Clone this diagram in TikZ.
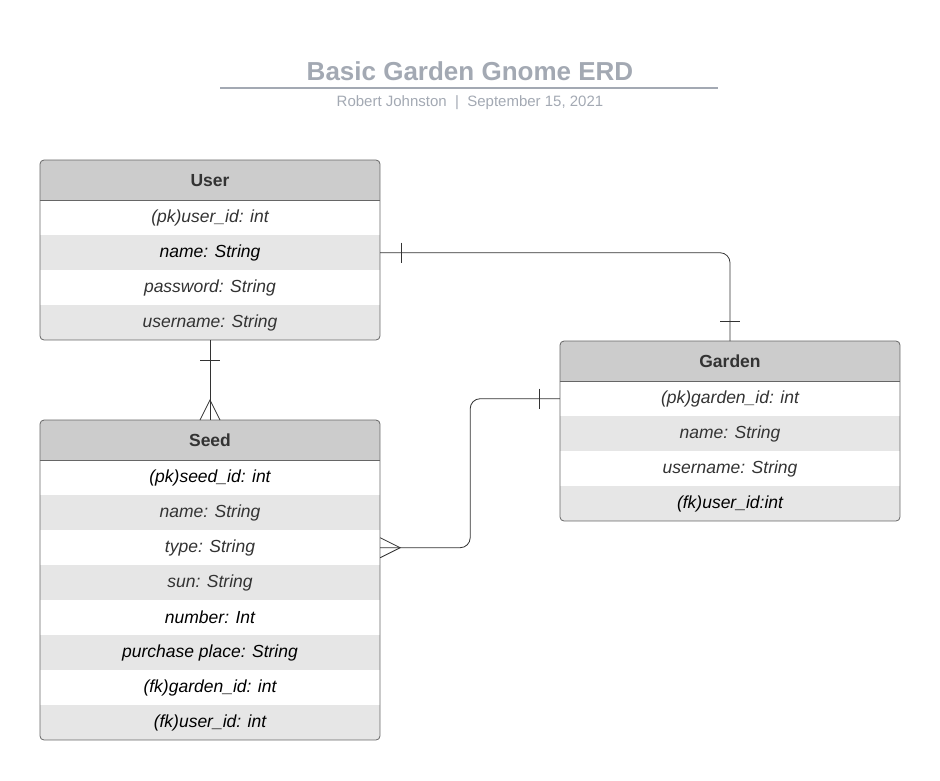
\documentclass[tikz,border=0pt]{standalone}
\usepackage{fontspec}
\setmainfont{Liberation Sans}
\usetikzlibrary{calc}
\definecolor{hdrgray}{HTML}{CCCCCC}
\definecolor{rowgray}{HTML}{E6E6E6}
\definecolor{txtgray}{HTML}{333333}
\definecolor{titlegray}{HTML}{A3A9B3}
\definecolor{edgegray}{HTML}{666666}
\tikzset{
  header/.style={minimum width=340pt, minimum height=40pt, fill=hdrgray, inner sep=0pt,
    font=\fontsize{17.5}{20}\selectfont\bfseries, text=txtgray, anchor=north},
  field/.style={minimum width=340pt, minimum height=35pt, inner sep=0pt,
    font=\fontsize{17.5}{20}\selectfont\itshape, anchor=north},
  tablebox/.style={draw=edgegray, rounded corners=4pt, line width=0.8pt},
  link/.style={draw=black!80, line width=0.8pt},
}
\begin{document}
\begin{tikzpicture}[x=1pt,y=-1pt]
            \useasboundingbox (0,0) rectangle (940,780);

            % title
            \node[font=\fontsize{26}{30}\selectfont\bfseries, text=titlegray] (title) at (470,71) {Basic Garden Gnome ERD};
            \draw[titlegray, line width=1.6pt] (220,88) -- (718,88);
            \node[font=\fontsize{15}{18}\selectfont, text=titlegray] (author) at (470,103) {Robert Johnston~~|~~September 15, 2021};

            % User
            \begin{scope}
                \clip[rounded corners=4pt] (40,160) rectangle (380,340);
                \node[header] (user) at (210,160) {User};
                \foreach \t/\c [count=\i] in {(pk)user\_id: int/txtgray, name: String/black,
                    password: String/txtgray, username: String/txtgray}
                {
                    \ifodd\i \def\rowfill{white}\else \def\rowfill{rowgray}\fi
                    \node[field, fill=\rowfill, text=\c] (user\i) at (210,{165+35*\i}) {\t};
                }
            \end{scope}
            \draw[tablebox] (40,160) rectangle (380,340);
            \draw[edgegray, line width=0.8pt] (user.south west) -- (user.south east);

            % Seed
            \begin{scope}
                \clip[rounded corners=4pt] (40,420) rectangle (380,740);
                \node[header] (seed) at (210,420) {Seed};
                \foreach \t/\c [count=\i] in {(pk)seed\_id: int/black, name: String/txtgray,
                    type: String/txtgray, sun: String/txtgray, number: Int/black,
                    purchase place: String/black, (fk)garden\_id: int/black, (fk)user\_id: int/black}
                {
                    \ifodd\i \def\rowfill{white}\else \def\rowfill{rowgray}\fi
                    \node[field, fill=\rowfill, text=\c] (seed\i) at (210,{425+35*\i}) {\t};
                }
            \end{scope}
            \draw[tablebox] (40,420) rectangle (380,740);
            \draw[edgegray, line width=0.8pt] (seed.south west) -- (seed.south east);

            % Garden
            \begin{scope}
                \clip[rounded corners=4pt] (560,341) rectangle (900,521);
                \node[header] (garden) at (730,341) {Garden};
                \foreach \t/\c [count=\i] in {(pk)garden\_id: int/txtgray, name: String/txtgray,
                    username: String/txtgray, (fk)user\_id:int/black}
                {
                    \ifodd\i \def\rowfill{white}\else \def\rowfill{rowgray}\fi
                    \node[field, fill=\rowfill, text=\c] (garden\i) at (730,{346+35*\i}) {\t};
                }
            \end{scope}
            \draw[tablebox] (560,341) rectangle (900,521);
            \draw[edgegray, line width=0.8pt] (garden.south west) -- (garden.south east);

            % User -- Garden (one to one)
            \draw[link, rounded corners=10pt] (user2.east) -| (garden.north);
            \draw[link] ($(user2.east)+(21,-10)$) -- ++(0,20);
            \draw[link] ($(garden.north)+(-10,-20)$) -- ++(20,0);

            % User -- Seed (one to many)
            \draw[link] (user4.south) -- (seed.north);
            \draw[link] ($(user4.south)+(-10,20)$) -- ++(20,0);
            \draw[link] ($(seed.north)+(-10,0)$) -- ($(seed.north)+(0,-20)$) -- ($(seed.north)+(10,0)$);

            % Seed -- Garden (many to one)
            \draw[link, rounded corners=10pt] (seed3.east) -- ++(90,0) |- (garden1.west);
            \draw[link] ($(seed3.east)+(0,-10)$) -- ($(seed3.east)+(20,0)$) -- ($(seed3.east)+(0,10)$);
            \draw[link] ($(garden1.west)+(-20,-10)$) -- ++(0,20);
        \end{tikzpicture}
\end{document}
